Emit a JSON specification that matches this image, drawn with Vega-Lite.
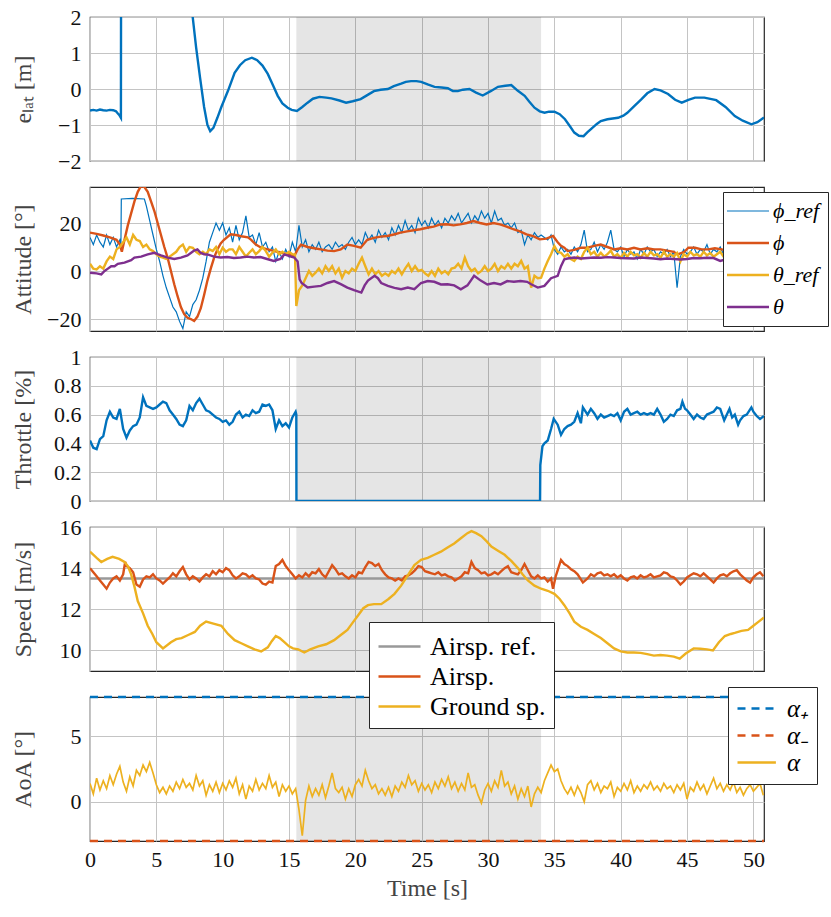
{
  "$schema": "https://vega.github.io/schema/vega-lite/v6.json",
  "padding": {"left": 10, "top": 5, "right": 5, "bottom": 5},
  "config": {
    "font": "Liberation Serif",
    "view": {"stroke": "#262626", "strokeWidth": 1.2},
    "axis": {
      "labelFont": "Liberation Serif", "labelFontSize": 22, "labelColor": "#111", "labelFlush": false,
      "titleFont": "Liberation Serif", "titleFontSize": 24, "titleFontWeight": "normal", "titleColor": "#444",
      "gridColor": "#c4c4c4", "gridWidth": 1, "domain": false, "ticks": false, "tickSize": 0, "labelPadding": 9
    },
    "legend": {"labelFont": "Liberation Serif", "labelColor": "#000", "fillColor": "#fff", "strokeColor": "#262626", "padding": 8, "rowPadding": 0, "symbolStrokeWidth": 2.5}
  },
  "spacing": 26,
  "bounds": "flush",
  "resolve": {"scale": {"color": "independent"}, "legend": {"color": "independent"}},
  "datasets": {
    "shade": [{"x1": 15.55, "x2": 34.0}],
    "lat": [
      {"t":0,"v":-0.6},{"t":0.25,"v":-0.58},{"t":0.5,"v":-0.6},{"t":0.75,"v":-0.57},{"t":1,"v":-0.59},{"t":1.25,"v":-0.6},{"t":1.5,"v":-0.58},{"t":1.75,"v":-0.59},{"t":1.96,"v":-0.62},{"t":2.1,"v":-0.68},{"t":2.2,"v":-0.72},{"t":2.33,"v":-0.8},{"t":2.35,"v":6},{"t":7.55,"v":6},{"t":7.74,"v":2.0},{"t":8.0,"v":1.15},{"t":8.3,"v":0.3},{"t":8.6,"v":-0.5},{"t":8.85,"v":-1.0},{"t":9.06,"v":-1.17},{"t":9.3,"v":-1.08},{"t":9.6,"v":-0.8},{"t":9.9,"v":-0.5},{"t":10.1,"v":-0.32},{"t":10.4,"v":-0.05},{"t":10.65,"v":0.2},{"t":10.9,"v":0.45},{"t":11.3,"v":0.66},{"t":11.7,"v":0.8},{"t":12.2,"v":0.87},{"t":12.6,"v":0.8},{"t":13.0,"v":0.65},{"t":13.4,"v":0.42},{"t":13.8,"v":0.1},{"t":14.15,"v":-0.19},{"t":14.5,"v":-0.4},{"t":14.9,"v":-0.52},{"t":15.2,"v":-0.58},{"t":15.6,"v":-0.61},{"t":16.0,"v":-0.5},{"t":16.4,"v":-0.38},{"t":16.8,"v":-0.27},{"t":17.3,"v":-0.22},{"t":17.8,"v":-0.24},{"t":18.2,"v":-0.26},{"t":18.8,"v":-0.32},{"t":19.3,"v":-0.38},{"t":19.8,"v":-0.34},{"t":20.4,"v":-0.28},{"t":20.9,"v":-0.17},{"t":21.4,"v":-0.06},{"t":21.9,"v":-0.02},{"t":22.45,"v":0.0},{"t":22.9,"v":0.08},{"t":23.45,"v":0.15},{"t":23.8,"v":0.2},{"t":24.2,"v":0.22},{"t":24.6,"v":0.22},{"t":24.96,"v":0.2},{"t":25.5,"v":0.12},{"t":25.97,"v":0.06},{"t":26.5,"v":0.04},{"t":26.97,"v":0.02},{"t":27.35,"v":-0.06},{"t":27.73,"v":-0.06},{"t":28.1,"v":-0.02},{"t":28.6,"v":0.0},{"t":29.1,"v":-0.1},{"t":29.6,"v":-0.18},{"t":30.2,"v":-0.06},{"t":30.75,"v":0.06},{"t":31.3,"v":0.09},{"t":31.75,"v":0.11},{"t":32.25,"v":-0.05},{"t":32.76,"v":-0.19},{"t":33.1,"v":-0.35},{"t":33.5,"v":-0.52},{"t":33.9,"v":-0.62},{"t":34.26,"v":-0.66},{"t":34.6,"v":-0.63},{"t":35.0,"v":-0.63},{"t":35.4,"v":-0.7},{"t":35.8,"v":-0.84},{"t":36.2,"v":-1.05},{"t":36.5,"v":-1.21},{"t":36.85,"v":-1.3},{"t":37.2,"v":-1.31},{"t":37.5,"v":-1.2},{"t":37.8,"v":-1.1},{"t":38.2,"v":-0.97},{"t":38.5,"v":-0.89},{"t":39.0,"v":-0.84},{"t":39.4,"v":-0.82},{"t":39.8,"v":-0.8},{"t":40.2,"v":-0.74},{"t":40.5,"v":-0.66},{"t":41.0,"v":-0.48},{"t":41.55,"v":-0.29},{"t":42.0,"v":-0.12},{"t":42.55,"v":0.0},{"t":43.0,"v":-0.04},{"t":43.57,"v":-0.14},{"t":44.1,"v":-0.3},{"t":44.6,"v":-0.38},{"t":45.1,"v":-0.3},{"t":45.6,"v":-0.24},{"t":46.3,"v":-0.24},{"t":47.2,"v":-0.31},{"t":47.9,"v":-0.5},{"t":48.6,"v":-0.75},{"t":49.2,"v":-0.88},{"t":49.85,"v":-0.98},{"t":50.3,"v":-0.92},{"t":50.8,"v":-0.79}
    ],
    "phr": [
      {"t":0,"v":14},{"t":0.25,"v":11},{"t":0.5,"v":15},{"t":0.75,"v":12},{"t":1,"v":10},{"t":1.25,"v":15},{"t":1.5,"v":11},{"t":1.75,"v":14},{"t":2,"v":10},{"t":2.25,"v":13},{"t":2.33,"v":11},{"t":2.36,"v":30},{"t":3.2,"v":30.3},{"t":4.1,"v":30},{"t":4.25,"v":27},{"t":4.5,"v":21},{"t":4.75,"v":15},{"t":5,"v":9},{"t":5.25,"v":4},{"t":5.5,"v":-2},{"t":5.75,"v":-7},{"t":6,"v":-11},{"t":6.25,"v":-15},{"t":6.5,"v":-17},{"t":6.75,"v":-21},{"t":7,"v":-24},{"t":7.25,"v":-17},{"t":7.5,"v":-19},{"t":7.75,"v":-14},{"t":8,"v":-12},{"t":8.25,"v":-8},{"t":8.5,"v":-3},{"t":8.75,"v":4},{"t":9,"v":12},{"t":9.25,"v":16},{"t":9.5,"v":20},{"t":9.75,"v":17},{"t":10,"v":20},{"t":10.25,"v":15},{"t":10.5,"v":18},{"t":10.75,"v":12},{"t":11,"v":19},{"t":11.25,"v":13},{"t":11.5,"v":16},{"t":11.75,"v":23},{"t":12,"v":14},{"t":12.25,"v":15},{"t":12.5,"v":11},{"t":12.75,"v":16},{"t":13,"v":10},{"t":13.25,"v":12},{"t":13.5,"v":8},{"t":13.75,"v":10},{"t":14,"v":4},{"t":14.25,"v":8},{"t":14.5,"v":5},{"t":14.75,"v":9},{"t":15,"v":6},{"t":15.25,"v":12},{"t":15.5,"v":8},{"t":15.75,"v":19},{"t":16,"v":10},{"t":16.25,"v":13},{"t":16.5,"v":8},{"t":16.75,"v":11},{"t":17,"v":9},{"t":17.25,"v":12},{"t":17.5,"v":8},{"t":17.75,"v":10},{"t":18,"v":11},{"t":18.25,"v":9},{"t":18.5,"v":12},{"t":18.75,"v":10},{"t":19,"v":11},{"t":19.25,"v":9},{"t":19.5,"v":12},{"t":19.75,"v":14},{"t":20,"v":11},{"t":20.25,"v":13},{"t":20.5,"v":11},{"t":20.75,"v":16},{"t":21,"v":13},{"t":21.25,"v":15},{"t":21.5,"v":12},{"t":21.75,"v":17},{"t":22,"v":14},{"t":22.25,"v":16},{"t":22.5,"v":13},{"t":22.75,"v":18},{"t":23,"v":15},{"t":23.25,"v":19},{"t":23.5,"v":16},{"t":23.75,"v":21},{"t":24,"v":17},{"t":24.25,"v":19},{"t":24.5,"v":16},{"t":24.75,"v":22},{"t":25,"v":19},{"t":25.25,"v":21},{"t":25.5,"v":18},{"t":25.75,"v":22},{"t":26,"v":19},{"t":26.25,"v":21},{"t":26.5,"v":18},{"t":26.75,"v":22},{"t":27,"v":20},{"t":27.25,"v":23},{"t":27.5,"v":21},{"t":27.75,"v":24},{"t":28,"v":20},{"t":28.25,"v":22},{"t":28.5,"v":24},{"t":28.75,"v":20},{"t":29,"v":23},{"t":29.25,"v":21},{"t":29.5,"v":25},{"t":29.75,"v":22},{"t":30,"v":24},{"t":30.25,"v":20},{"t":30.5,"v":25},{"t":30.75,"v":21},{"t":31,"v":22},{"t":31.25,"v":19},{"t":31.5,"v":20},{"t":31.75,"v":18},{"t":32,"v":20},{"t":32.25,"v":16},{"t":32.5,"v":17},{"t":32.75,"v":11},{"t":33,"v":15},{"t":33.25,"v":13},{"t":33.5,"v":16},{"t":33.75,"v":14},{"t":34,"v":15},{"t":34.25,"v":14},{"t":34.5,"v":13},{"t":34.75,"v":15},{"t":35,"v":9},{"t":35.25,"v":7},{"t":35.5,"v":10},{"t":35.75,"v":8},{"t":36,"v":9},{"t":36.25,"v":7},{"t":36.5,"v":10},{"t":36.75,"v":8},{"t":37,"v":11},{"t":37.25,"v":17},{"t":37.5,"v":8},{"t":37.75,"v":9},{"t":38,"v":12},{"t":38.25,"v":8},{"t":38.5,"v":11},{"t":38.75,"v":9},{"t":39,"v":12},{"t":39.25,"v":17},{"t":39.5,"v":9},{"t":39.75,"v":8},{"t":40,"v":10},{"t":40.25,"v":6},{"t":40.5,"v":9},{"t":40.75,"v":7},{"t":41,"v":8},{"t":41.25,"v":5},{"t":41.5,"v":9},{"t":41.75,"v":7},{"t":42,"v":10},{"t":42.25,"v":8},{"t":42.5,"v":9},{"t":42.75,"v":6},{"t":43,"v":8},{"t":43.25,"v":7},{"t":43.5,"v":9},{"t":43.75,"v":6},{"t":44,"v":8},{"t":44.25,"v":-7},{"t":44.5,"v":6},{"t":44.75,"v":9},{"t":45,"v":7},{"t":45.25,"v":8},{"t":45.5,"v":10},{"t":45.75,"v":7},{"t":46,"v":9},{"t":46.25,"v":8},{"t":46.5,"v":11},{"t":46.75,"v":7},{"t":47,"v":9},{"t":47.25,"v":8},{"t":47.5,"v":10},{"t":47.75,"v":7},{"t":48,"v":9},{"t":48.25,"v":8},{"t":48.5,"v":10},{"t":48.75,"v":7},{"t":49,"v":9},{"t":49.25,"v":6},{"t":49.5,"v":8},{"t":49.75,"v":10},{"t":50,"v":7},{"t":50.25,"v":9},{"t":50.5,"v":8},{"t":50.75,"v":9}
    ],
    "phi": [
      {"t":0,"v":16},{"t":0.5,"v":15.5},{"t":1,"v":14.8},{"t":1.5,"v":14},{"t":2,"v":13},{"t":2.25,"v":11},{"t":2.4,"v":8},{"t":2.6,"v":13},{"t":2.85,"v":19},{"t":3.1,"v":24},{"t":3.35,"v":29},{"t":3.6,"v":33},{"t":3.85,"v":35.5},{"t":4.1,"v":35},{"t":4.35,"v":33},{"t":4.6,"v":29},{"t":4.85,"v":25},{"t":5.1,"v":20},{"t":5.35,"v":15},{"t":5.6,"v":10},{"t":5.85,"v":5.5},{"t":6.1,"v":0},{"t":6.35,"v":-5.5},{"t":6.6,"v":-10.5},{"t":6.85,"v":-15},{"t":7.1,"v":-18},{"t":7.35,"v":-19.5},{"t":7.6,"v":-20},{"t":7.85,"v":-20.8},{"t":8.1,"v":-19},{"t":8.35,"v":-15.5},{"t":8.6,"v":-10},{"t":8.85,"v":-4},{"t":9.1,"v":1},{"t":9.35,"v":5.5},{"t":9.6,"v":9},{"t":9.85,"v":11.5},{"t":10.1,"v":13},{"t":10.6,"v":15.3},{"t":11,"v":15},{"t":11.4,"v":14.5},{"t":11.9,"v":14},{"t":12.15,"v":13},{"t":12.5,"v":11},{"t":12.9,"v":9.7},{"t":13.4,"v":9},{"t":13.9,"v":8.3},{"t":14.4,"v":7.6},{"t":14.9,"v":7},{"t":15.4,"v":6.2},{"t":15.65,"v":9},{"t":15.9,"v":11},{"t":16.4,"v":10},{"t":16.9,"v":9.5},{"t":17.4,"v":9},{"t":17.9,"v":8.5},{"t":18.4,"v":8.3},{"t":18.9,"v":9},{"t":19.4,"v":11},{"t":19.9,"v":10.5},{"t":20.4,"v":9.7},{"t":20.9,"v":13},{"t":21.4,"v":13.8},{"t":21.9,"v":14.3},{"t":22.4,"v":14.6},{"t":22.9,"v":15.2},{"t":23.4,"v":16},{"t":23.9,"v":16.5},{"t":24.4,"v":17},{"t":24.9,"v":17.4},{"t":25.4,"v":18},{"t":25.9,"v":18.5},{"t":26.4,"v":19.4},{"t":26.9,"v":19.5},{"t":27.4,"v":19},{"t":27.9,"v":19.4},{"t":28.4,"v":20},{"t":28.9,"v":20.8},{"t":29.4,"v":20},{"t":29.9,"v":19.4},{"t":30.4,"v":20},{"t":30.9,"v":19.4},{"t":31.4,"v":18.5},{"t":31.9,"v":17.4},{"t":32.4,"v":16.5},{"t":32.9,"v":15.3},{"t":33.4,"v":14.5},{"t":33.9,"v":13.2},{"t":34.4,"v":13.5},{"t":34.9,"v":14.6},{"t":35.25,"v":12},{"t":35.5,"v":10.5},{"t":35.75,"v":9.7},{"t":36,"v":8.3},{"t":36.5,"v":8.8},{"t":37,"v":9.7},{"t":37.5,"v":9.7},{"t":38,"v":10.5},{"t":38.5,"v":11},{"t":39,"v":10},{"t":39.5,"v":9},{"t":40,"v":9.5},{"t":40.5,"v":9},{"t":41,"v":9.7},{"t":41.5,"v":9},{"t":42,"v":9.5},{"t":42.5,"v":9},{"t":43,"v":9},{"t":43.5,"v":8.5},{"t":44,"v":8},{"t":44.3,"v":6.9},{"t":44.8,"v":8},{"t":45.1,"v":9.7},{"t":45.6,"v":9.7},{"t":46.1,"v":9},{"t":46.6,"v":9},{"t":47.1,"v":9.5},{"t":47.6,"v":9},{"t":48.1,"v":8.5},{"t":48.6,"v":9},{"t":49.1,"v":8.5},{"t":49.6,"v":8},{"t":50.1,"v":8.5},{"t":50.8,"v":8}
    ],
    "ther": [
      {"t":0,"v":3},{"t":0.25,"v":1},{"t":0.5,"v":0.7},{"t":0.75,"v":2},{"t":1,"v":1},{"t":1.25,"v":4},{"t":1.5,"v":6},{"t":1.75,"v":5},{"t":2,"v":9},{"t":2.25,"v":10},{"t":2.5,"v":12},{"t":2.75,"v":14},{"t":3,"v":11},{"t":3.25,"v":15},{"t":3.5,"v":13},{"t":3.75,"v":12.5},{"t":4,"v":10},{"t":4.25,"v":11},{"t":4.5,"v":9},{"t":4.75,"v":8.3},{"t":5,"v":7},{"t":5.25,"v":6},{"t":5.5,"v":5.6},{"t":5.75,"v":5},{"t":6,"v":6},{"t":6.25,"v":7},{"t":6.5,"v":8},{"t":6.75,"v":10},{"t":7,"v":11},{"t":7.25,"v":8},{"t":7.5,"v":10},{"t":7.75,"v":9.7},{"t":8,"v":8},{"t":8.25,"v":7},{"t":8.5,"v":8},{"t":8.75,"v":7},{"t":9,"v":9},{"t":9.25,"v":8.3},{"t":9.5,"v":10},{"t":9.75,"v":7},{"t":10,"v":9.7},{"t":10.25,"v":8},{"t":10.5,"v":9},{"t":10.75,"v":9},{"t":11,"v":7},{"t":11.25,"v":10},{"t":11.5,"v":8},{"t":11.75,"v":6},{"t":12,"v":7.6},{"t":12.25,"v":9},{"t":12.5,"v":7},{"t":12.75,"v":8.3},{"t":13,"v":10},{"t":13.25,"v":8.3},{"t":13.5,"v":6},{"t":13.75,"v":7.6},{"t":14,"v":9},{"t":14.25,"v":7},{"t":14.5,"v":8},{"t":14.75,"v":6.9},{"t":15,"v":8},{"t":15.25,"v":7},{"t":15.45,"v":6.9},{"t":15.55,"v":-14.6},{"t":15.75,"v":-8},{"t":16,"v":-6},{"t":16.25,"v":-3},{"t":16.5,"v":0},{"t":16.75,"v":-2},{"t":17,"v":-0.7},{"t":17.25,"v":1},{"t":17.5,"v":-1},{"t":17.75,"v":2},{"t":18,"v":0},{"t":18.25,"v":2},{"t":18.5,"v":-1},{"t":18.75,"v":1},{"t":19,"v":-2.8},{"t":19.25,"v":0},{"t":19.5,"v":-1},{"t":19.75,"v":1},{"t":20,"v":0},{"t":20.25,"v":3},{"t":20.5,"v":5.6},{"t":20.75,"v":2},{"t":21,"v":-1.4},{"t":21.25,"v":1},{"t":21.5,"v":-1.4},{"t":21.75,"v":0},{"t":22,"v":-2},{"t":22.25,"v":-1},{"t":22.5,"v":-2},{"t":22.75,"v":0},{"t":23,"v":-1},{"t":23.25,"v":1},{"t":23.5,"v":-1.4},{"t":23.75,"v":1},{"t":24,"v":3},{"t":24.25,"v":0},{"t":24.5,"v":2},{"t":24.75,"v":0},{"t":25,"v":0.5},{"t":25.25,"v":-1},{"t":25.5,"v":-2},{"t":25.75,"v":0},{"t":26,"v":-2},{"t":26.25,"v":1},{"t":26.5,"v":-1},{"t":26.75,"v":0},{"t":27,"v":-1.4},{"t":27.25,"v":1},{"t":27.5,"v":1.4},{"t":27.75,"v":3},{"t":28,"v":1},{"t":28.25,"v":5.6},{"t":28.5,"v":2},{"t":28.75,"v":0},{"t":29,"v":1},{"t":29.25,"v":-1},{"t":29.5,"v":0},{"t":29.75,"v":2},{"t":30,"v":0},{"t":30.25,"v":1},{"t":30.5,"v":3},{"t":30.75,"v":0},{"t":31,"v":2},{"t":31.25,"v":1},{"t":31.5,"v":3},{"t":31.75,"v":1},{"t":32,"v":3},{"t":32.25,"v":2},{"t":32.5,"v":4.2},{"t":32.75,"v":1},{"t":33,"v":2},{"t":33.25,"v":-6.9},{"t":33.5,"v":-2},{"t":33.75,"v":-3},{"t":34,"v":-2.8},{"t":34.25,"v":1},{"t":34.5,"v":4.2},{"t":34.75,"v":7},{"t":35,"v":10.4},{"t":35.25,"v":8},{"t":35.5,"v":7.6},{"t":35.75,"v":6},{"t":36,"v":7},{"t":36.25,"v":5},{"t":36.5,"v":4.2},{"t":36.75,"v":6},{"t":37,"v":5},{"t":37.25,"v":8},{"t":37.5,"v":9.7},{"t":37.75,"v":7},{"t":38,"v":8},{"t":38.25,"v":6},{"t":38.5,"v":7.6},{"t":38.75,"v":6},{"t":39,"v":7},{"t":39.25,"v":8.5},{"t":39.5,"v":6},{"t":39.75,"v":7},{"t":40,"v":5.5},{"t":40.25,"v":7.5},{"t":40.5,"v":6},{"t":40.75,"v":8},{"t":41,"v":6.5},{"t":41.25,"v":7},{"t":41.5,"v":5.5},{"t":41.75,"v":7.5},{"t":42,"v":6},{"t":42.25,"v":8},{"t":42.5,"v":6.5},{"t":42.75,"v":7},{"t":43,"v":5.5},{"t":43.25,"v":8},{"t":43.5,"v":6},{"t":43.75,"v":7},{"t":44,"v":6},{"t":44.25,"v":7.5},{"t":44.5,"v":4},{"t":44.75,"v":7},{"t":45,"v":6},{"t":45.25,"v":8},{"t":45.5,"v":6.5},{"t":45.75,"v":7},{"t":46,"v":6},{"t":46.25,"v":8},{"t":46.5,"v":6.5},{"t":46.75,"v":7.5},{"t":47,"v":6},{"t":47.25,"v":7},{"t":47.5,"v":8},{"t":47.75,"v":6},{"t":48,"v":7},{"t":48.25,"v":6},{"t":48.5,"v":7.5},{"t":48.75,"v":6},{"t":49,"v":7},{"t":49.25,"v":5.5},{"t":49.5,"v":7},{"t":49.75,"v":6},{"t":50,"v":7.5},{"t":50.25,"v":6},{"t":50.5,"v":7},{"t":50.75,"v":6.5}
    ],
    "the": [
      {"t":0,"v":-0.7},{"t":0.5,"v":-1},{"t":0.85,"v":-1.4},{"t":1.1,"v":0},{"t":1.35,"v":1},{"t":1.6,"v":2},{"t":1.85,"v":2},{"t":2.1,"v":3},{"t":2.6,"v":3.5},{"t":3.1,"v":4.5},{"t":3.35,"v":5.6},{"t":3.85,"v":6},{"t":4.35,"v":6.9},{"t":4.85,"v":7.6},{"t":5.1,"v":7},{"t":5.35,"v":6.5},{"t":5.85,"v":5.6},{"t":6.35,"v":5},{"t":6.85,"v":5.6},{"t":7.35,"v":6.5},{"t":7.6,"v":7.5},{"t":7.85,"v":8.5},{"t":8.1,"v":9},{"t":8.35,"v":7.5},{"t":8.6,"v":7},{"t":8.85,"v":6.9},{"t":9.35,"v":6},{"t":9.85,"v":5.6},{"t":10.35,"v":5.8},{"t":10.85,"v":5.4},{"t":11.35,"v":5.6},{"t":11.85,"v":6},{"t":12.35,"v":5.6},{"t":12.85,"v":5.8},{"t":13.35,"v":5},{"t":13.85,"v":4.2},{"t":14.35,"v":5},{"t":14.65,"v":6.9},{"t":15.15,"v":6},{"t":15.4,"v":5.6},{"t":15.65,"v":4},{"t":15.8,"v":-3.5},{"t":15.95,"v":-5},{"t":16.4,"v":-6.9},{"t":16.9,"v":-6.5},{"t":17.4,"v":-6.2},{"t":17.9,"v":-5},{"t":18.4,"v":-4.2},{"t":18.9,"v":-5.5},{"t":19.4,"v":-6.9},{"t":19.9,"v":-8},{"t":20.45,"v":-9},{"t":20.7,"v":-6},{"t":20.95,"v":-4},{"t":21.45,"v":-2},{"t":21.7,"v":-3},{"t":21.95,"v":-5},{"t":22.45,"v":-6.2},{"t":22.95,"v":-7},{"t":23.45,"v":-7.6},{"t":23.95,"v":-6.9},{"t":24.45,"v":-7.6},{"t":24.95,"v":-5},{"t":25.45,"v":-4.2},{"t":25.95,"v":-4.5},{"t":26.45,"v":-5.6},{"t":26.95,"v":-5.5},{"t":27.45,"v":-6},{"t":27.95,"v":-7.6},{"t":28.45,"v":-6},{"t":28.7,"v":-4},{"t":28.95,"v":-2},{"t":29.45,"v":-4},{"t":29.95,"v":-5.6},{"t":30.45,"v":-5},{"t":30.95,"v":-5.6},{"t":31.45,"v":-4.2},{"t":31.95,"v":-4.5},{"t":32.45,"v":-4.2},{"t":32.95,"v":-4.5},{"t":33.25,"v":-5.5},{"t":33.75,"v":-6.9},{"t":34.25,"v":-6.2},{"t":34.75,"v":-3},{"t":35.25,"v":-2},{"t":35.5,"v":2},{"t":35.75,"v":4.9},{"t":36,"v":5.2},{"t":36.5,"v":5.6},{"t":37,"v":5.2},{"t":37.5,"v":5.4},{"t":38,"v":5.6},{"t":38.5,"v":5.5},{"t":39,"v":5.8},{"t":39.5,"v":5.6},{"t":40,"v":5.4},{"t":40.5,"v":5.3},{"t":41,"v":5.2},{"t":41.5,"v":5.6},{"t":42,"v":5.4},{"t":42.5,"v":5.2},{"t":43,"v":4.9},{"t":43.5,"v":5.2},{"t":44,"v":5},{"t":44.5,"v":4.8},{"t":45,"v":5},{"t":45.5,"v":5.4},{"t":46,"v":5.3},{"t":46.5,"v":5.5},{"t":47,"v":5.4},{"t":47.5,"v":4.2},{"t":48,"v":5},{"t":48.5,"v":5.2},{"t":49,"v":5},{"t":49.5,"v":4.8},{"t":50,"v":4.5},{"t":50.8,"v":4.5}
    ],
    "thro": [
      {"t":0,"v":0.42},{"t":0.25,"v":0.37},{"t":0.5,"v":0.36},{"t":0.75,"v":0.43},{"t":1,"v":0.45},{"t":1.25,"v":0.56},{"t":1.5,"v":0.62},{"t":1.75,"v":0.58},{"t":2,"v":0.57},{"t":2.25,"v":0.64},{"t":2.5,"v":0.5},{"t":2.75,"v":0.44},{"t":3,"v":0.49},{"t":3.25,"v":0.52},{"t":3.5,"v":0.53},{"t":3.75,"v":0.58},{"t":4,"v":0.72},{"t":4.25,"v":0.66},{"t":4.5,"v":0.65},{"t":4.75,"v":0.64},{"t":5,"v":0.65},{"t":5.25,"v":0.67},{"t":5.5,"v":0.69},{"t":5.75,"v":0.68},{"t":6,"v":0.63},{"t":6.25,"v":0.6},{"t":6.5,"v":0.57},{"t":6.75,"v":0.53},{"t":7,"v":0.52},{"t":7.25,"v":0.56},{"t":7.5,"v":0.66},{"t":7.75,"v":0.63},{"t":8,"v":0.68},{"t":8.25,"v":0.71},{"t":8.5,"v":0.67},{"t":8.75,"v":0.63},{"t":9,"v":0.62},{"t":9.25,"v":0.6},{"t":9.5,"v":0.58},{"t":9.75,"v":0.57},{"t":10,"v":0.55},{"t":10.25,"v":0.56},{"t":10.5,"v":0.53},{"t":10.75,"v":0.55},{"t":11,"v":0.6},{"t":11.25,"v":0.62},{"t":11.5,"v":0.58},{"t":11.75,"v":0.6},{"t":12,"v":0.59},{"t":12.25,"v":0.63},{"t":12.5,"v":0.61},{"t":12.75,"v":0.62},{"t":13,"v":0.67},{"t":13.25,"v":0.66},{"t":13.5,"v":0.67},{"t":13.75,"v":0.63},{"t":14,"v":0.5},{"t":14.25,"v":0.56},{"t":14.5,"v":0.52},{"t":14.75,"v":0.54},{"t":15,"v":0.51},{"t":15.25,"v":0.58},{"t":15.5,"v":0.62},{"t":15.55,"v":0.6},{"t":15.56,"v":0},{"t":33.92,"v":0},{"t":33.94,"v":0.25},{"t":34.1,"v":0.38},{"t":34.25,"v":0.4},{"t":34.5,"v":0.42},{"t":34.75,"v":0.5},{"t":34.95,"v":0.57},{"t":35.25,"v":0.53},{"t":35.5,"v":0.46},{"t":35.75,"v":0.5},{"t":36,"v":0.52},{"t":36.25,"v":0.53},{"t":36.5,"v":0.55},{"t":36.75,"v":0.61},{"t":37,"v":0.54},{"t":37.15,"v":0.65},{"t":37.5,"v":0.6},{"t":37.75,"v":0.64},{"t":38,"v":0.61},{"t":38.25,"v":0.57},{"t":38.5,"v":0.6},{"t":38.75,"v":0.58},{"t":39,"v":0.59},{"t":39.25,"v":0.6},{"t":39.5,"v":0.59},{"t":39.75,"v":0.61},{"t":40,"v":0.56},{"t":40.25,"v":0.62},{"t":40.5,"v":0.64},{"t":40.75,"v":0.6},{"t":41,"v":0.61},{"t":41.25,"v":0.62},{"t":41.5,"v":0.6},{"t":41.75,"v":0.61},{"t":42,"v":0.6},{"t":42.25,"v":0.61},{"t":42.5,"v":0.6},{"t":42.75,"v":0.64},{"t":43,"v":0.6},{"t":43.25,"v":0.55},{"t":43.5,"v":0.57},{"t":43.75,"v":0.6},{"t":44,"v":0.59},{"t":44.25,"v":0.63},{"t":44.5,"v":0.64},{"t":44.65,"v":0.69},{"t":44.85,"v":0.64},{"t":45,"v":0.63},{"t":45.25,"v":0.6},{"t":45.5,"v":0.57},{"t":45.75,"v":0.6},{"t":46,"v":0.58},{"t":46.25,"v":0.57},{"t":46.5,"v":0.6},{"t":46.75,"v":0.61},{"t":47,"v":0.62},{"t":47.25,"v":0.65},{"t":47.5,"v":0.64},{"t":47.8,"v":0.56},{"t":48,"v":0.6},{"t":48.2,"v":0.64},{"t":48.4,"v":0.58},{"t":48.6,"v":0.6},{"t":48.85,"v":0.53},{"t":49,"v":0.56},{"t":49.25,"v":0.59},{"t":49.5,"v":0.6},{"t":49.85,"v":0.65},{"t":50,"v":0.62},{"t":50.25,"v":0.59},{"t":50.5,"v":0.57},{"t":50.8,"v":0.59}
    ],
    "ref": [{"t":0,"v":13.5},{"t":50.8,"v":13.5}],
    "asp": [
      {"t":0,"v":14.0},{"t":0.25,"v":13.8},{"t":0.5,"v":13.6},{"t":0.75,"v":13.4},{"t":1,"v":13.2},{"t":1.25,"v":13.0},{"t":1.5,"v":13.3},{"t":1.75,"v":13.5},{"t":2,"v":13.6},{"t":2.25,"v":13.4},{"t":2.5,"v":13.7},{"t":2.65,"v":14.3},{"t":2.75,"v":14.1},{"t":3,"v":14.0},{"t":3.25,"v":13.8},{"t":3.5,"v":13.2},{"t":3.75,"v":13.1},{"t":4,"v":13.45},{"t":4.25,"v":13.6},{"t":4.5,"v":13.55},{"t":4.75,"v":13.7},{"t":5,"v":13.5},{"t":5.25,"v":13.4},{"t":5.5,"v":13.25},{"t":5.75,"v":13.4},{"t":6,"v":13.55},{"t":6.25,"v":13.75},{"t":6.5,"v":13.6},{"t":6.75,"v":13.85},{"t":7,"v":14.05},{"t":7.25,"v":13.7},{"t":7.5,"v":13.45},{"t":7.75,"v":13.6},{"t":8,"v":13.5},{"t":8.25,"v":13.35},{"t":8.5,"v":13.55},{"t":8.75,"v":13.7},{"t":9,"v":13.6},{"t":9.25,"v":13.85},{"t":9.5,"v":13.7},{"t":9.75,"v":13.9},{"t":10,"v":13.8},{"t":10.25,"v":14.0},{"t":10.5,"v":13.9},{"t":10.75,"v":13.65},{"t":11,"v":13.5},{"t":11.25,"v":13.6},{"t":11.5,"v":13.75},{"t":11.75,"v":13.7},{"t":12,"v":13.55},{"t":12.25,"v":13.65},{"t":12.5,"v":13.5},{"t":12.75,"v":13.45},{"t":13,"v":13.25},{"t":13.25,"v":13.2},{"t":13.5,"v":13.35},{"t":13.75,"v":13.3},{"t":14,"v":14.1},{"t":14.25,"v":14.2},{"t":14.5,"v":14.4},{"t":14.75,"v":14.1},{"t":15,"v":13.9},{"t":15.25,"v":13.7},{"t":15.5,"v":13.5},{"t":15.75,"v":13.65},{"t":16,"v":13.55},{"t":16.25,"v":13.75},{"t":16.5,"v":13.6},{"t":16.75,"v":13.8},{"t":17,"v":13.75},{"t":17.25,"v":13.95},{"t":17.5,"v":13.7},{"t":17.75,"v":13.55},{"t":18,"v":13.85},{"t":18.25,"v":14.15},{"t":18.5,"v":13.95},{"t":18.75,"v":13.7},{"t":19,"v":13.75},{"t":19.25,"v":13.6},{"t":19.5,"v":13.5},{"t":19.75,"v":13.65},{"t":20,"v":13.55},{"t":20.25,"v":13.8},{"t":20.5,"v":13.75},{"t":20.75,"v":14.05},{"t":21,"v":14.3},{"t":21.25,"v":14.25},{"t":21.5,"v":14.1},{"t":21.75,"v":14.2},{"t":22,"v":13.9},{"t":22.25,"v":13.7},{"t":22.5,"v":13.55},{"t":22.75,"v":13.5},{"t":23,"v":13.4},{"t":23.25,"v":13.5},{"t":23.5,"v":13.4},{"t":23.75,"v":13.6},{"t":24,"v":13.65},{"t":24.25,"v":13.75},{"t":24.5,"v":13.9},{"t":24.75,"v":14.1},{"t":25,"v":14.05},{"t":25.25,"v":13.85},{"t":25.5,"v":13.8},{"t":25.75,"v":13.75},{"t":26,"v":13.7},{"t":26.25,"v":13.8},{"t":26.5,"v":13.65},{"t":26.75,"v":13.7},{"t":27,"v":13.6},{"t":27.25,"v":13.55},{"t":27.5,"v":13.4},{"t":27.75,"v":13.5},{"t":28,"v":13.6},{"t":28.25,"v":13.8},{"t":28.5,"v":13.75},{"t":28.75,"v":14.3},{"t":29,"v":14.0},{"t":29.25,"v":13.9},{"t":29.5,"v":13.75},{"t":29.75,"v":13.8},{"t":30,"v":13.65},{"t":30.25,"v":13.7},{"t":30.5,"v":13.8},{"t":30.75,"v":13.7},{"t":31,"v":13.85},{"t":31.25,"v":14.0},{"t":31.5,"v":14.1},{"t":31.75,"v":13.8},{"t":32,"v":13.75},{"t":32.25,"v":13.7},{"t":32.5,"v":13.9},{"t":32.75,"v":14.2},{"t":33,"v":13.9},{"t":33.25,"v":13.6},{"t":33.5,"v":13.5},{"t":33.75,"v":13.65},{"t":34,"v":13.5},{"t":34.25,"v":13.55},{"t":34.5,"v":13.35},{"t":34.75,"v":13.5},{"t":34.9,"v":13.0},{"t":35.1,"v":13.6},{"t":35.5,"v":14.4},{"t":35.75,"v":14.2},{"t":36,"v":14.1},{"t":36.25,"v":13.95},{"t":36.5,"v":13.85},{"t":36.75,"v":13.7},{"t":37,"v":13.45},{"t":37.15,"v":13.3},{"t":37.5,"v":13.5},{"t":37.75,"v":13.7},{"t":38,"v":13.6},{"t":38.25,"v":13.75},{"t":38.5,"v":13.8},{"t":38.75,"v":13.65},{"t":39,"v":13.7},{"t":39.25,"v":13.6},{"t":39.5,"v":13.7},{"t":39.75,"v":13.55},{"t":40,"v":13.65},{"t":40.25,"v":13.5},{"t":40.5,"v":13.4},{"t":40.75,"v":13.55},{"t":41,"v":13.6},{"t":41.25,"v":13.5},{"t":41.5,"v":13.65},{"t":41.75,"v":13.55},{"t":42,"v":13.6},{"t":42.25,"v":13.7},{"t":42.5,"v":13.55},{"t":42.75,"v":13.6},{"t":43,"v":13.65},{"t":43.25,"v":13.8},{"t":43.5,"v":13.75},{"t":43.75,"v":13.6},{"t":44,"v":13.55},{"t":44.25,"v":13.4},{"t":44.5,"v":13.2},{"t":44.75,"v":13.35},{"t":45,"v":13.55},{"t":45.25,"v":13.65},{"t":45.5,"v":13.75},{"t":45.75,"v":13.7},{"t":46,"v":13.6},{"t":46.25,"v":13.75},{"t":46.5,"v":13.6},{"t":46.75,"v":13.45},{"t":47,"v":13.3},{"t":47.25,"v":13.5},{"t":47.5,"v":13.65},{"t":47.75,"v":13.7},{"t":48,"v":13.6},{"t":48.25,"v":13.75},{"t":48.5,"v":13.85},{"t":48.75,"v":13.9},{"t":49,"v":13.7},{"t":49.25,"v":13.55},{"t":49.5,"v":13.4},{"t":49.75,"v":13.3},{"t":50,"v":13.55},{"t":50.25,"v":13.7},{"t":50.5,"v":13.8},{"t":50.75,"v":13.6}
    ],
    "gsp": [
      {"t":0,"v":14.8},{"t":0.5,"v":14.5},{"t":0.85,"v":14.3},{"t":1.3,"v":14.45},{"t":1.7,"v":14.55},{"t":2.2,"v":14.45},{"t":2.6,"v":14.3},{"t":2.85,"v":14.1},{"t":3.1,"v":13.7},{"t":3.35,"v":13.1},{"t":3.6,"v":12.4},{"t":4.0,"v":11.8},{"t":4.35,"v":11.2},{"t":4.7,"v":10.8},{"t":5.0,"v":10.4},{"t":5.5,"v":10.1},{"t":6.1,"v":10.4},{"t":6.5,"v":10.55},{"t":6.9,"v":10.6},{"t":7.4,"v":10.75},{"t":7.9,"v":10.9},{"t":8.3,"v":11.2},{"t":8.75,"v":11.4},{"t":9.3,"v":11.3},{"t":9.9,"v":11.2},{"t":10.4,"v":10.8},{"t":10.9,"v":10.5},{"t":11.4,"v":10.35},{"t":11.9,"v":10.2},{"t":12.4,"v":10.05},{"t":12.9,"v":9.95},{"t":13.4,"v":10.15},{"t":13.7,"v":10.45},{"t":14.0,"v":10.7},{"t":14.3,"v":10.6},{"t":14.65,"v":10.4},{"t":15.0,"v":10.2},{"t":15.3,"v":10.1},{"t":15.7,"v":10.05},{"t":16.15,"v":9.9},{"t":16.6,"v":10.05},{"t":17.2,"v":10.2},{"t":17.8,"v":10.3},{"t":18.4,"v":10.5},{"t":18.9,"v":10.75},{"t":19.4,"v":11.0},{"t":19.8,"v":11.35},{"t":20.2,"v":11.7},{"t":20.6,"v":12.05},{"t":20.95,"v":12.2},{"t":21.4,"v":12.25},{"t":21.95,"v":12.25},{"t":22.5,"v":12.5},{"t":22.95,"v":12.75},{"t":23.45,"v":13.15},{"t":23.95,"v":13.65},{"t":24.45,"v":14.15},{"t":24.95,"v":14.4},{"t":25.45,"v":14.5},{"t":25.95,"v":14.65},{"t":26.45,"v":14.8},{"t":26.95,"v":15.0},{"t":27.45,"v":15.2},{"t":27.95,"v":15.45},{"t":28.45,"v":15.7},{"t":28.75,"v":15.8},{"t":29.1,"v":15.7},{"t":29.5,"v":15.55},{"t":29.9,"v":15.3},{"t":30.25,"v":15.05},{"t":30.75,"v":14.85},{"t":31.25,"v":14.65},{"t":31.75,"v":14.35},{"t":32.25,"v":14.0},{"t":32.6,"v":13.7},{"t":33.0,"v":13.4},{"t":33.5,"v":13.15},{"t":34.0,"v":13.0},{"t":34.5,"v":12.9},{"t":35.0,"v":12.75},{"t":35.4,"v":12.5},{"t":35.75,"v":12.2},{"t":36.15,"v":11.8},{"t":36.5,"v":11.4},{"t":37.0,"v":11.15},{"t":37.5,"v":11.0},{"t":38.0,"v":10.8},{"t":38.5,"v":10.6},{"t":39.0,"v":10.35},{"t":39.5,"v":10.1},{"t":40.0,"v":9.95},{"t":40.5,"v":9.9},{"t":41.0,"v":9.9},{"t":41.5,"v":9.88},{"t":42.0,"v":9.82},{"t":42.5,"v":9.75},{"t":43.0,"v":9.78},{"t":43.5,"v":9.75},{"t":44.0,"v":9.7},{"t":44.45,"v":9.6},{"t":44.9,"v":9.85},{"t":45.5,"v":10.1},{"t":46.0,"v":10.08},{"t":46.5,"v":10.05},{"t":46.95,"v":10.0},{"t":47.4,"v":10.4},{"t":47.85,"v":10.7},{"t":48.3,"v":10.8},{"t":48.6,"v":10.85},{"t":49.1,"v":10.95},{"t":49.6,"v":11.0},{"t":50.0,"v":11.2},{"t":50.4,"v":11.4},{"t":50.8,"v":11.6}
    ],
    "aplus": [{"t":0,"v":8},{"t":50.8,"v":8}],
    "aminus": [{"t":0,"v":-3},{"t":50.8,"v":-3}],
    "aoa": [
      {"t":0,"v":1.4},{"t":0.25,"v":0.6},{"t":0.5,"v":1.8},{"t":0.75,"v":0.9},{"t":1,"v":1.6},{"t":1.25,"v":1.0},{"t":1.5,"v":2.0},{"t":1.75,"v":1.3},{"t":2,"v":2.1},{"t":2.25,"v":2.7},{"t":2.5,"v":1.5},{"t":2.75,"v":0.8},{"t":3,"v":1.9},{"t":3.25,"v":1.2},{"t":3.5,"v":2.4},{"t":3.75,"v":2.0},{"t":4,"v":2.8},{"t":4.25,"v":2.3},{"t":4.5,"v":3.0},{"t":4.75,"v":2.2},{"t":5,"v":1.3},{"t":5.25,"v":0.7},{"t":5.5,"v":1.1},{"t":5.75,"v":0.6},{"t":6,"v":1.2},{"t":6.25,"v":0.8},{"t":6.5,"v":1.5},{"t":6.75,"v":1.0},{"t":7,"v":1.7},{"t":7.25,"v":1.1},{"t":7.5,"v":1.4},{"t":7.75,"v":0.9},{"t":8,"v":2.0},{"t":8.25,"v":1.2},{"t":8.5,"v":1.6},{"t":8.75,"v":0.5},{"t":9,"v":1.3},{"t":9.25,"v":0.8},{"t":9.5,"v":1.5},{"t":9.75,"v":0.7},{"t":10,"v":1.4},{"t":10.25,"v":0.9},{"t":10.5,"v":1.6},{"t":10.75,"v":1.1},{"t":11,"v":1.8},{"t":11.25,"v":0.6},{"t":11.5,"v":1.3},{"t":11.75,"v":0.2},{"t":12,"v":1.2},{"t":12.25,"v":0.8},{"t":12.5,"v":1.7},{"t":12.75,"v":0.9},{"t":13,"v":1.4},{"t":13.25,"v":1.0},{"t":13.5,"v":2.0},{"t":13.75,"v":1.1},{"t":14,"v":1.5},{"t":14.25,"v":0.4},{"t":14.5,"v":1.3},{"t":14.75,"v":0.8},{"t":15,"v":1.2},{"t":15.25,"v":0.6},{"t":15.5,"v":1.0},{"t":15.75,"v":-0.6},{"t":16,"v":-2.6},{"t":16.25,"v":0.1},{"t":16.5,"v":1.2},{"t":16.75,"v":0.4},{"t":17,"v":1.0},{"t":17.25,"v":0.5},{"t":17.5,"v":1.3},{"t":17.75,"v":0.3},{"t":18,"v":1.2},{"t":18.25,"v":2.2},{"t":18.5,"v":1.0},{"t":18.75,"v":0.7},{"t":19,"v":1.1},{"t":19.25,"v":0.2},{"t":19.5,"v":1.0},{"t":19.75,"v":0.4},{"t":20,"v":1.3},{"t":20.25,"v":1.7},{"t":20.5,"v":1.2},{"t":20.75,"v":2.4},{"t":21,"v":1.6},{"t":21.25,"v":1.0},{"t":21.5,"v":1.3},{"t":21.75,"v":0.6},{"t":22,"v":1.0},{"t":22.25,"v":0.5},{"t":22.5,"v":1.1},{"t":22.75,"v":0.4},{"t":23,"v":1.2},{"t":23.25,"v":0.8},{"t":23.5,"v":1.5},{"t":23.75,"v":1.1},{"t":24,"v":2.0},{"t":24.25,"v":1.3},{"t":24.5,"v":1.6},{"t":24.75,"v":0.8},{"t":25,"v":1.4},{"t":25.25,"v":0.9},{"t":25.5,"v":1.3},{"t":25.75,"v":0.7},{"t":26,"v":1.5},{"t":26.25,"v":1.0},{"t":26.5,"v":1.7},{"t":26.75,"v":1.2},{"t":27,"v":1.9},{"t":27.25,"v":1.0},{"t":27.5,"v":1.5},{"t":27.75,"v":0.8},{"t":28,"v":1.4},{"t":28.25,"v":0.9},{"t":28.5,"v":2.2},{"t":28.75,"v":1.1},{"t":29,"v":1.3},{"t":29.25,"v":0.5},{"t":29.5,"v":-0.1},{"t":29.75,"v":0.9},{"t":30,"v":1.4},{"t":30.25,"v":0.8},{"t":30.5,"v":1.6},{"t":30.75,"v":1.1},{"t":31,"v":2.4},{"t":31.25,"v":1.2},{"t":31.5,"v":1.5},{"t":31.75,"v":0.6},{"t":32,"v":1.2},{"t":32.25,"v":0.2},{"t":32.5,"v":1.0},{"t":32.75,"v":0.4},{"t":33,"v":1.2},{"t":33.25,"v":-0.4},{"t":33.5,"v":0.6},{"t":33.75,"v":1.1},{"t":34,"v":0.7},{"t":34.25,"v":1.6},{"t":34.5,"v":2.2},{"t":34.75,"v":2.8},{"t":35,"v":2.3},{"t":35.25,"v":2.5},{"t":35.5,"v":1.6},{"t":35.75,"v":1.0},{"t":36,"v":0.6},{"t":36.25,"v":1.1},{"t":36.5,"v":0.5},{"t":36.75,"v":1.2},{"t":37,"v":0.7},{"t":37.25,"v":0.0},{"t":37.5,"v":1.3},{"t":37.75,"v":1.6},{"t":38,"v":0.9},{"t":38.25,"v":1.4},{"t":38.5,"v":0.7},{"t":38.75,"v":1.2},{"t":39,"v":1.0},{"t":39.25,"v":1.5},{"t":39.5,"v":0.4},{"t":39.75,"v":1.1},{"t":40,"v":0.8},{"t":40.25,"v":1.4},{"t":40.5,"v":0.9},{"t":40.75,"v":1.6},{"t":41,"v":0.7},{"t":41.25,"v":1.2},{"t":41.5,"v":0.8},{"t":41.75,"v":1.3},{"t":42,"v":1.0},{"t":42.25,"v":1.5},{"t":42.5,"v":0.9},{"t":42.75,"v":1.2},{"t":43,"v":0.8},{"t":43.25,"v":1.4},{"t":43.5,"v":1.0},{"t":43.75,"v":1.2},{"t":44,"v":0.7},{"t":44.25,"v":1.3},{"t":44.5,"v":0.9},{"t":44.75,"v":1.4},{"t":45,"v":0.2},{"t":45.25,"v":1.1},{"t":45.5,"v":0.8},{"t":45.75,"v":1.5},{"t":46,"v":0.9},{"t":46.25,"v":1.3},{"t":46.5,"v":0.6},{"t":46.75,"v":1.2},{"t":47,"v":1.8},{"t":47.25,"v":1.0},{"t":47.5,"v":1.4},{"t":47.75,"v":0.8},{"t":48,"v":1.3},{"t":48.25,"v":0.9},{"t":48.5,"v":1.5},{"t":48.75,"v":0.7},{"t":49,"v":1.1},{"t":49.25,"v":0.5},{"t":49.5,"v":1.0},{"t":49.75,"v":1.3},{"t":50,"v":0.8},{"t":50.25,"v":1.1},{"t":50.5,"v":1.4},{"t":50.75,"v":0.5}
    ]
  },
  "vconcat": [
    {
      "width": 674, "height": 144,
      "layer": [
        {
          "data": {"name": "shade"},
          "mark": {"type": "rect", "color": "#000", "opacity": 0.1},
          "encoding": {
            "x": {"field": "x1", "type": "quantitative", "scale": {"domain": [0, 50.8], "nice": false},
                  "axis": {"values": [0,5,10,15,20,25,30,35,40,45,50], "labels": false, "title": null}},
            "x2": {"field": "x2"}
          }
        },
        {
          "data": {"name": "lat"},
          "mark": {"type": "line", "color": "#0072BD", "strokeWidth": 2.4, "clip": true},
          "encoding": {
            "x": {"field": "t", "type": "quantitative"},
            "y": {"field": "v", "type": "quantitative", "scale": {"domain": [-2, 2], "nice": false},
                  "axis": {"values": [-2,-1,0,1,2], "labelFont": "Liberation Serif", "title": "eₗₐₜ [m]", "titleX": -67, "titleY": 72, "titleBaseline": "middle"}}
          }
        }
      ]
    },
    {
      "width": 674, "height": 144,
      "layer": [
        {
          "data": {"name": "shade"},
          "mark": {"type": "rect", "color": "#000", "opacity": 0.1},
          "encoding": {
            "x": {"field": "x1", "type": "quantitative", "scale": {"domain": [0, 50.8], "nice": false},
                  "axis": {"values": [0,5,10,15,20,25,30,35,40,45,50], "labels": false, "title": null}},
            "x2": {"field": "x2"}
          }
        },
        {
          "data": {"name": "phr"},
          "mark": {"type": "line", "strokeWidth": 1.2, "clip": true},
          "encoding": {
            "x": {"field": "t", "type": "quantitative"},
            "y": {"field": "v", "type": "quantitative", "scale": {"domain": [-25, 35], "nice": false},
                  "axis": {"values": [-20,0,20], "labelFont": "Liberation Serif", "title": "Attitude [°]", "titleX": -67, "titleY": 72, "titleBaseline": "middle"}},
            "color": {"datum": "ϕ_ref", "type": "nominal",
              "scale": {"domain": ["ϕ_ref", "ϕ", "θ_ref", "θ"], "range": ["#0072BD", "#D95319", "#EDB120", "#7E2F8E"]},
              "legend": {"orient": "none", "legendX": 633, "legendY": 5, "title": null,
                "symbolType": "M-1,0H1.8", "symbolSize": 900, "rowPadding": 10,
                "labelFont": "Liberation Serif", "labelFontSize": 22, "labelFontStyle": "italic", "labelOffset": 20,
                "encode": {"symbols": {"update": {"strokeWidth": {"signal": "datum.value === 'ϕ_ref' ? 1.2 : 2.5"}}}}}}
          }
        },
        {
          "data": {"name": "phi"},
          "mark": {"type": "line", "strokeWidth": 2.4, "clip": true},
          "encoding": {"x": {"field": "t", "type": "quantitative"}, "y": {"field": "v", "type": "quantitative"}, "color": {"datum": "ϕ"}}
        },
        {
          "data": {"name": "ther"},
          "mark": {"type": "line", "strokeWidth": 2.4, "clip": true},
          "encoding": {"x": {"field": "t", "type": "quantitative"}, "y": {"field": "v", "type": "quantitative"}, "color": {"datum": "θ_ref"}}
        },
        {
          "data": {"name": "the"},
          "mark": {"type": "line", "strokeWidth": 2.4, "clip": true},
          "encoding": {"x": {"field": "t", "type": "quantitative"}, "y": {"field": "v", "type": "quantitative"}, "color": {"datum": "θ"}}
        }
      ]
    },
    {
      "width": 674, "height": 144,
      "layer": [
        {
          "data": {"name": "shade"},
          "mark": {"type": "rect", "color": "#000", "opacity": 0.1},
          "encoding": {
            "x": {"field": "x1", "type": "quantitative", "scale": {"domain": [0, 50.8], "nice": false},
                  "axis": {"values": [0,5,10,15,20,25,30,35,40,45,50], "labels": false, "title": null}},
            "x2": {"field": "x2"}
          }
        },
        {
          "data": {"name": "thro"},
          "mark": {"type": "line", "color": "#0072BD", "strokeWidth": 2.4, "clip": true},
          "encoding": {
            "x": {"field": "t", "type": "quantitative"},
            "y": {"field": "v", "type": "quantitative", "scale": {"domain": [0, 1], "nice": false},
                  "axis": {"values": [0,0.2,0.4,0.6,0.8,1], "format": "~g", "labelFont": "Liberation Serif", "title": "Throttle [%]", "titleX": -67, "titleY": 72, "titleBaseline": "middle"}}
          }
        }
      ]
    },
    {
      "width": 674, "height": 144,
      "layer": [
        {
          "data": {"name": "shade"},
          "mark": {"type": "rect", "color": "#000", "opacity": 0.1},
          "encoding": {
            "x": {"field": "x1", "type": "quantitative", "scale": {"domain": [0, 50.8], "nice": false},
                  "axis": {"values": [0,5,10,15,20,25,30,35,40,45,50], "labels": false, "title": null}},
            "x2": {"field": "x2"}
          }
        },
        {
          "data": {"name": "ref"},
          "mark": {"type": "line", "strokeWidth": 2.4, "clip": true},
          "encoding": {
            "x": {"field": "t", "type": "quantitative"},
            "y": {"field": "v", "type": "quantitative", "scale": {"domain": [9, 16], "nice": false},
                  "axis": {"values": [10,12,14,16], "labelFont": "Liberation Serif", "title": "Speed [m/s]", "titleX": -67, "titleY": 72, "titleBaseline": "middle"}},
            "stroke": {"datum": "Airsp. ref.", "type": "nominal",
              "scale": {"domain": ["Airsp. ref.", "Airsp.", "Ground sp."], "range": ["#999999", "#D95319", "#EDB120"]},
              "legend": {"orient": "none", "legendX": 279, "legendY": 605, "title": null,
                "symbolType": "M-1,0H1.8", "symbolSize": 900, "rowPadding": 0,
                "labelFont": "Liberation Serif", "labelFontSize": 26, "labelOffset": 20}}
          }
        },
        {
          "data": {"name": "asp"},
          "mark": {"type": "line", "strokeWidth": 2.4, "clip": true},
          "encoding": {"x": {"field": "t", "type": "quantitative"}, "y": {"field": "v", "type": "quantitative"}, "stroke": {"datum": "Airsp."}}
        },
        {
          "data": {"name": "gsp"},
          "mark": {"type": "line", "strokeWidth": 2.4, "clip": true},
          "encoding": {"x": {"field": "t", "type": "quantitative"}, "y": {"field": "v", "type": "quantitative"}, "stroke": {"datum": "Ground sp."}}
        }
      ]
    },
    {
      "width": 674, "height": 144,
      "layer": [
        {
          "data": {"name": "shade"},
          "mark": {"type": "rect", "color": "#000", "opacity": 0.1},
          "encoding": {
            "x": {"field": "x1", "type": "quantitative", "scale": {"domain": [0, 50.8], "nice": false},
                  "axis": {"values": [0,5,10,15,20,25,30,35,40,45,50], "labelFont": "Liberation Serif", "title": "Time [s]", "labelPadding": 8, "titlePadding": 6}},
            "x2": {"field": "x2"}
          }
        },
        {
          "data": {"name": "aplus"},
          "mark": {"type": "line", "strokeDash": [8, 6], "strokeWidth": 2.4, "clip": false},
          "encoding": {
            "x": {"field": "t", "type": "quantitative"},
            "y": {"field": "v", "type": "quantitative", "scale": {"domain": [-3, 8], "nice": false},
                  "axis": {"values": [0,5], "labelFont": "Liberation Serif", "title": "AoA [°]", "titleX": -67, "titleY": 72, "titleBaseline": "middle"}},
            "color": {"datum": "α₊", "type": "nominal",
              "scale": {"domain": ["α₊", "α₋", "α"], "range": ["#0072BD", "#D95319", "#EDB120"]},
              "legend": {"orient": "none", "legendX": 638, "legendY": -10, "title": null,
                "symbolType": "M-1,0H2.2", "symbolSize": 576, "rowPadding": -3,
                "labelFont": "Liberation Serif", "labelFontSize": 25, "labelFontStyle": "italic", "labelOffset": 24,
                "encode": {"symbols": {"update": {"strokeDash": {"signal": "datum.value === 'α' ? [1, 0] : [8, 6]"}}}}}}
          }
        },
        {
          "data": {"name": "aminus"},
          "mark": {"type": "line", "strokeDash": [8, 6], "strokeWidth": 2.4, "clip": false},
          "encoding": {"x": {"field": "t", "type": "quantitative"}, "y": {"field": "v", "type": "quantitative"}, "color": {"datum": "α₋"}}
        },
        {
          "data": {"name": "aoa"},
          "mark": {"type": "line", "strokeWidth": 1.7, "clip": true},
          "encoding": {"x": {"field": "t", "type": "quantitative"}, "y": {"field": "v", "type": "quantitative"}, "color": {"datum": "α"}}
        }
      ]
    }
  ]
}
